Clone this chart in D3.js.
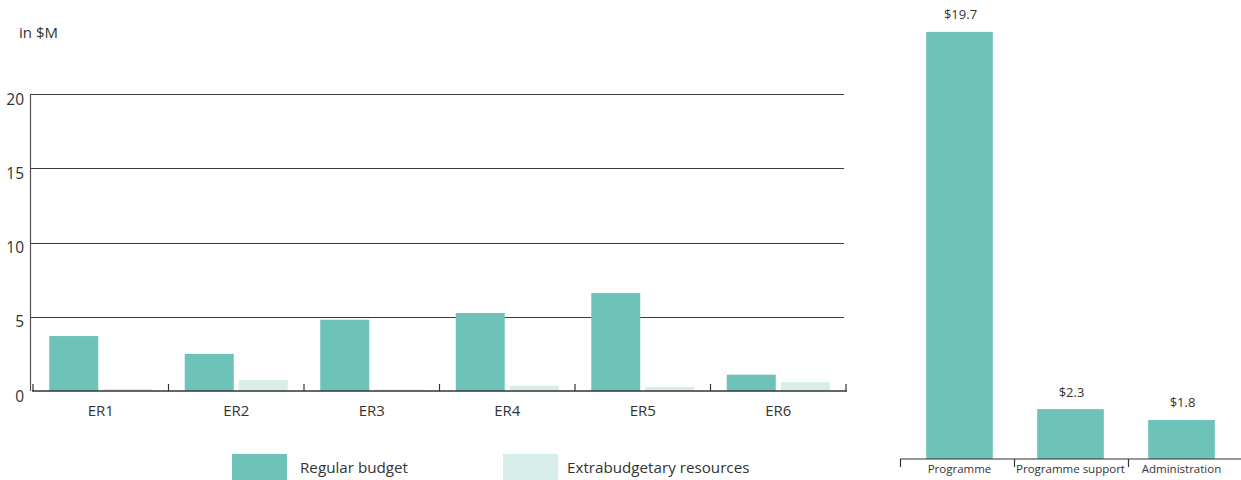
<!DOCTYPE html>
<html>
<head>
<meta charset="utf-8">
<script src="https://cdn.jsdelivr.net/npm/d3@7"></script>
<style>
  html, body { margin: 0; padding: 0; background: #fff; }
  svg { display: block; font-family: "Open Sans", "Noto Sans", sans-serif; }
  text { fill: #333; }
</style>
</head>
<body>
<svg id="chart" width="1241" height="480"></svg>
<script>
// Expected results: regular budget vs extrabudgetary resources (in $M)
const results = ["ER1", "ER2", "ER3", "ER4", "ER5", "ER6"];
const regularBudget = [3.7, 2.5, 4.8, 5.25, 6.6, 1.1];
const extrabudgetary = [0.15, 0.75, 0.1, 0.35, 0.28, 0.6];
const yTicks = [0, 5, 10, 15, 20];

// Regular budget split by function (in $M)
const functions = ["Programme", "Programme support", "Administration"];
const functionValues = [19.7, 2.3, 1.8];

const seriesNames = ["Regular budget", "Extrabudgetary resources"];
const colors = ["#6dc3b8", "#d8eeea"];

const svg = d3.select("#chart");

// ---------- left panel: grouped bars ----------
const left = { x0: 33, x1: 846, y0: 94, y1: 391 };

const x = d3.scaleBand().domain(results).range([left.x0, left.x1]);
const inner = d3.scaleBand().domain([0, 1])
  .range([0, x.bandwidth()]).paddingInner(0.0926).paddingOuter(0.301);
const y = d3.scaleLinear().domain([0, 20]).range([left.y1, left.y0]);

// horizontal gridlines
svg.append("g")
  .selectAll("line")
  .data(yTicks.filter(d => d > 0))
  .join("line")
  .attr("x1", 30).attr("x2", 844)
  .attr("y1", d => Math.round(y(d)) + 0.5).attr("y2", d => Math.round(y(d)) + 0.5)
  .attr("stroke", "#3a3a3a").attr("stroke-width", 1.2);

// y axis line and labels
svg.append("line")
  .attr("x1", 30.5).attr("x2", 30.5)
  .attr("y1", y(20)).attr("y2", y(0))
  .attr("stroke", "#555").attr("stroke-width", 1.2);

svg.append("g")
  .selectAll("text")
  .data(yTicks)
  .join("text")
  .attr("x", 24)
  .attr("y", d => y(d) + 6.5)
  .attr("text-anchor", "end")
  .attr("dominant-baseline", "middle")
  .attr("font-size", 15.5)
  .text(d => d);

svg.append("text")
  .attr("x", 19).attr("y", 34)
  .attr("dominant-baseline", "middle")
  .attr("font-size", 15)
  .text("in $M");

// bars
const groups = svg.append("g")
  .selectAll("g")
  .data(results.map((r, i) => ({ r, vals: [regularBudget[i], extrabudgetary[i]] })))
  .join("g")
  .attr("transform", d => `translate(${x(d.r)},0)`);

groups.selectAll("rect")
  .data(d => d.vals.map((v, k) => ({ v, k })))
  .join("rect")
  .attr("x", d => inner(d.k))
  .attr("width", inner.bandwidth())
  .attr("y", d => y(d.v))
  .attr("height", d => y(0) - y(d.v))
  .attr("fill", d => colors[d.k]);

// bottom axis with inward ticks at the group boundaries
const xAxis = svg.append("g")
  .attr("transform", `translate(0,${y(0)})`);
xAxis.append("line")
  .attr("x1", left.x0 - 1).attr("x2", left.x1 + 1)
  .attr("stroke", "#333").attr("stroke-width", 1.5);
xAxis.selectAll("line.tick")
  .data(results.map(r => x(r)).concat([x(results[results.length - 1]) + x.bandwidth()]))
  .join("line")
  .attr("class", "tick")
  .attr("x1", d => d).attr("x2", d => d)
  .attr("y1", 0).attr("y2", -7)
  .attr("stroke", "#333").attr("stroke-width", 1.2);
xAxis.selectAll("text")
  .data(results)
  .join("text")
  .attr("x", d => x(d) + x.bandwidth() / 2)
  .attr("y", 20.5)
  .attr("text-anchor", "middle")
  .attr("dominant-baseline", "middle")
  .attr("font-size", 15)
  .text(d => d);

// legend
const legend = svg.append("g");
const legendX = [232, 503];
const legendTextX = [300, 567];
seriesNames.forEach((name, i) => {
  legend.append("rect")
    .attr("x", legendX[i]).attr("y", 454)
    .attr("width", 55).attr("height", 26)
    .attr("fill", colors[i]);
  legend.append("text")
    .attr("x", legendTextX[i]).attr("y", 468.5)
    .attr("dominant-baseline", "middle")
    .attr("font-size", 15.2)
    .text(name);
});

// ---------- right panel: budget by function ----------
const right = { base: 459 };
const xr = d3.scaleBand().domain(functions).range([904, 1237])
  .paddingInner(0.4).paddingOuter(0.2);
const xrAxis = d3.scaleBand().domain(functions).range([900, 1242]);
const yr = d3.scaleLinear().domain([0, 20]).range([right.base, right.base - 20 * 21.68]);

svg.append("g")
  .selectAll("rect")
  .data(functions.map((f, i) => ({ f, v: functionValues[i] })))
  .join("rect")
  .attr("x", d => xr(d.f))
  .attr("width", xr.bandwidth())
  .attr("y", d => yr(d.v))
  .attr("height", d => yr(0) - yr(d.v))
  .attr("fill", colors[0]);

svg.append("g")
  .selectAll("text")
  .data(functions.map((f, i) => ({ f, v: functionValues[i] })))
  .join("text")
  .attr("x", d => xr(d.f) + xr.bandwidth() / 2 + 1)
  .attr("y", d => yr(d.v) - 16)
  .attr("text-anchor", "middle")
  .attr("dominant-baseline", "middle")
  .attr("font-size", 13)
  .text(d => "$" + d3.format(".1f")(d.v));

const rAxis = svg.append("g").attr("transform", `translate(0,${right.base})`);
rAxis.append("line")
  .attr("x1", 900).attr("x2", 1241)
  .attr("stroke", "#333").attr("stroke-width", 1.2);
rAxis.selectAll("line.tick")
  .data(functions.map(f => xrAxis(f)))
  .join("line")
  .attr("class", "tick")
  .attr("x1", d => d + 0.5).attr("x2", d => d + 0.5)
  .attr("y1", 0).attr("y2", 8)
  .attr("stroke", "#333").attr("stroke-width", 1.2);
rAxis.selectAll("text")
  .data(functions)
  .join("text")
  .attr("x", d => xr(d) + xr.bandwidth() / 2)
  .attr("y", 11)
  .attr("text-anchor", "middle")
  .attr("dominant-baseline", "middle")
  .attr("font-size", 11.5)
  .text(d => d);
</script>
</body>
</html>
